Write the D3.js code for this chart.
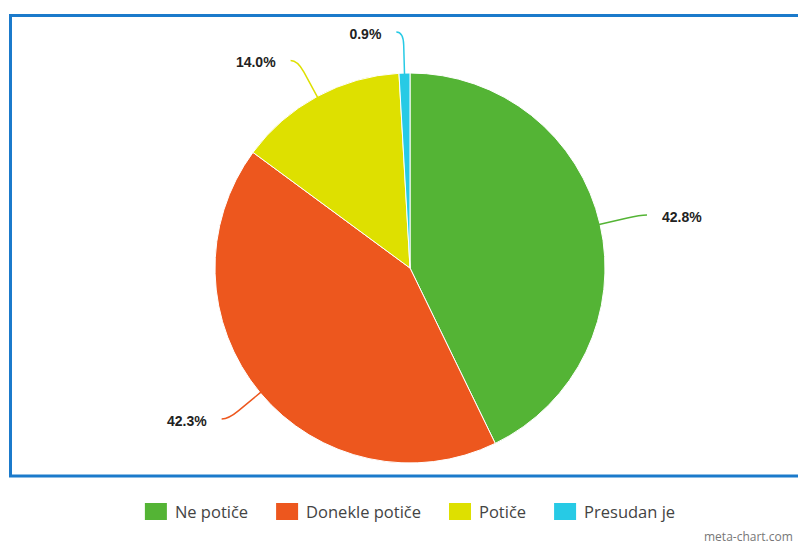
<!DOCTYPE html>
<html>
<head>
<meta charset="utf-8">
<script src="https://cdn.jsdelivr.net/npm/d3@7"></script>
<style>
  body { margin: 0; background: #fff; }
  svg { display: block; }
</style>
</head>
<body>
<div id="chart"></div>
<script>
var width = 798,
  height = 545,
  cx = 410,
  cy = 268,
  r = 195;

// data
var categories = ['Ne potiče', 'Donekle potiče', 'Potiče', 'Presudan je'];
var values = [42.8, 42.3, 14.0, 0.9];
var colors = ['#54b435', '#ed571e', '#dee000', '#27cae5'];

var svg = d3.select('#chart').
append('svg').
attr('width', width).
attr('height', height);

// blue frame round the plot area
svg.append('rect').
attr('x', 10.5).
attr('y', 15.5).
attr('width', 820).
attr('height', 460.5).
attr('fill', 'none').
attr('stroke', '#1b7acb').
attr('stroke-width', 3);

var pie = d3.pie().sort(null).value(d => d.value);
var arc = d3.arc().innerRadius(0).outerRadius(r);

var data = categories.map((c, i) => ({ name: c, value: values[i], color: colors[i] }));
var arcs = pie(data);

var g = svg.append('g').attr('transform', 'translate(' + cx + ',' + cy + ')');

g.selectAll('path.slice').
data(arcs).
enter().
append('path').
attr('class', 'slice').
attr('d', arc).
attr('fill', d => d.data.color).
attr('stroke', '#fff').
attr('stroke-width', 1);

// connectors + labels
function pt(a, rad) {
  return [Math.sin(a) * rad, -Math.cos(a) * rad];
}

arcs.forEach(d => {
  var a = (d.startAngle + d.endAngle) / 2;
  var p0 = pt(a, r - 1),
    pa = pt(a, r + 28),
    p1 = pt(a, r + 41);
  var side = p1[0] < 0 ? -1 : 1;
  var p2 = [p1[0] + side * 7, p1[1]];
  g.append('path').
  attr('d', 'M' + p0 + 'L' + pa + 'Q' + p1 + ' ' + p2).
  attr('fill', 'none').
  attr('stroke', d.data.color).
  attr('stroke-width', 1.5);
  g.append('text').
  attr('x', p2[0] + side * 15).
  attr('y', p2[1] + 2).
  attr('dy', '0.35em').
  attr('text-anchor', side < 0 ? 'end' : 'start').
  attr('font-family', 'Liberation Sans, Arial, sans-serif').
  attr('font-weight', 'bold').
  attr('font-size', '14px').
  attr('fill', '#222').
  text(d.data.value.toFixed(1) + '%');
});

// legend, centred under the pie
var legend = svg.append('g');
var items = legend.selectAll('g').
data(data).
enter().
append('g');

items.append('rect').
attr('y', 503).
attr('width', 22).
attr('height', 17).
attr('fill', d => d.color);

items.append('text').
attr('x', 30).
attr('y', 518).
attr('font-family', 'Open Sans, sans-serif').
attr('font-size', '16.5px').
attr('fill', '#444').
text(d => d.name);

var xPos = 0;
items.each(function () {
  var w = d3.select(this).select('text').node().getComputedTextLength();
  d3.select(this).attr('transform', 'translate(' + xPos + ',0)');
  xPos += 30 + w + 28;
});
var total = xPos - 28;
legend.attr('transform', 'translate(' + (410 - total / 2) + ',0)');

svg.append('text').
attr('x', 704).
attr('y', 541).
attr('font-family', 'Open Sans, sans-serif').
attr('font-size', '12px').
attr('fill', '#777').
text('meta-chart.com');
</script>
</body>
</html>
